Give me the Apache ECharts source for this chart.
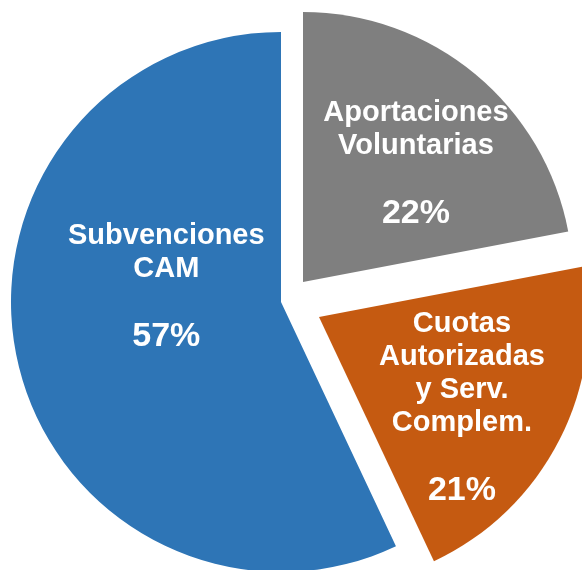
<!DOCTYPE html>
<html>
<head>
<meta charset="utf-8">
<script src="https://cdn.jsdelivr.net/npm/echarts@6/dist/echarts.min.js"></script>
<style>
  html, body { margin: 0; padding: 0; background: #fff; }
  #main { width: 582px; height: 570px; }
</style>
</head>
<body>
<div id="main"></div>
<script>
// slices in drawing order, clockwise from 12 o'clock
const categories = ['Aportaciones\nVoluntarias', 'Cuotas\nAutorizadas\ny Serv.\nComplem.', 'Subvenciones\nCAM']
const values = [22, 21, 57]
const colors = ['#7F7F7F', '#C55A11', '#2E75B6']

// each slice is drawn by its own series so the explode distance can differ
const sliceCenters = [[303, 282], [319, 317], [281, 302]]
const labelPadding = [[0, 0, 24, 50], [56, 0, 0, 40], [0, 0, 90, 40]]

const chart = echarts.init(document.getElementById('main'))

const series = categories.map((_, k) => ({
  type: 'pie',
  center: sliceCenters[k],
  radius: 270,
  startAngle: 90,
  clockwise: true,
  silent: true,
  animation: false,
  percentPrecision: 0,
  labelLine: { show: false },
  data: categories.map((name, i) => ({
    name,
    value: values[i],
    itemStyle: { color: i === k ? colors[i] : 'transparent' },
    label: {
      show: i === k,
      position: 'inside',
      formatter: '{n|{b}}\n{n|}\n{p|{d}%}',
      padding: labelPadding[k],
      rich: {
        n: {
          color: '#fff',
          fontFamily: 'Liberation Sans',
          fontWeight: 'bold',
          fontSize: 29,
          lineHeight: 33,
          align: 'center'
        },
        p: {
          color: '#fff',
          fontFamily: 'Liberation Sans',
          fontWeight: 'bold',
          fontSize: 34,
          lineHeight: 36,
          align: 'center'
        }
      }
    }
  }))
}))

chart.setOption({
  animation: false,
  series
})
</script>
</body>
</html>
